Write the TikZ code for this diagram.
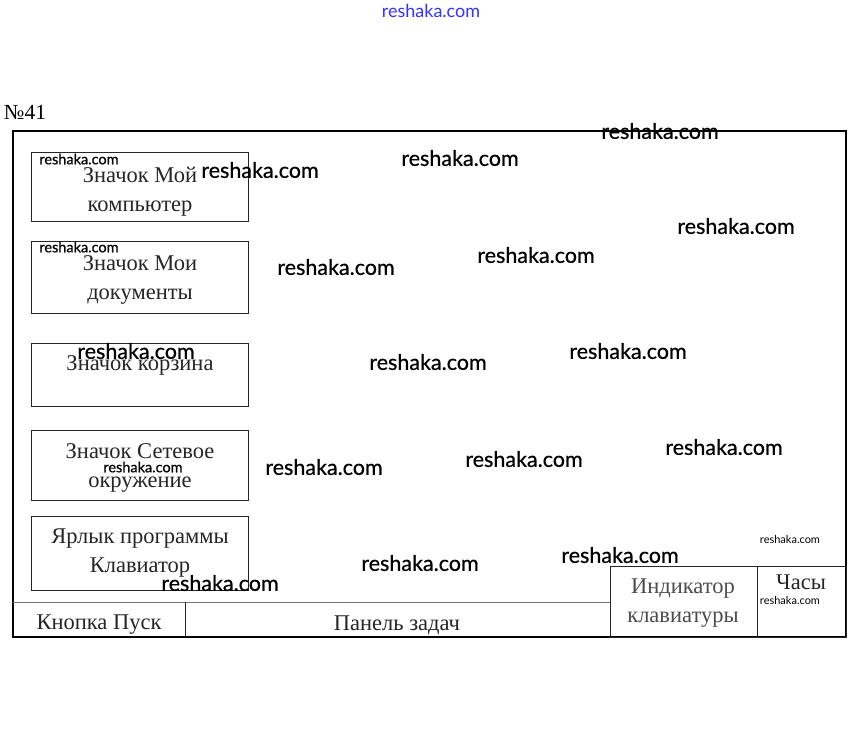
\documentclass[tikz,border=0pt]{standalone}
\usepackage{fontspec}
\setmainfont{Liberation Serif}
\newfontfamily\wmfont[FakeBold=0.6]{Lato}
\newfontfamily\wmthin{Lato}
\begin{document}
\begin{tikzpicture}[x=1pt,y=-1pt,
  box/.style={draw=black!85,line width=0.9pt,inner sep=0pt},
  lbl/.style={font=\fontsize{22.5}{29}\selectfont,text=black!85,align=center,inner sep=0pt},
  wm/.style={font=\wmfont\fontsize{21.5}{21.5}\selectfont,text=black,inner sep=0pt},
  wms/.style={font=\wmfont\fontsize{14.5}{14.5}\selectfont,text=black,inner sep=0pt},
  wmt/.style={font=\wmthin\fontsize{11}{11}\selectfont,text=black,inner sep=0pt}]
\useasboundingbox (0,0) rectangle (859,742);
\fill[white] (0,0) rectangle (859,742);
% title
\node[font=\fontsize{21.5}{21.5}\selectfont,inner sep=0pt] (num) at (25,112) {№41};
% desktop frame
\coordinate (dtl) at (13,131);
\coordinate (dbr) at (846,637);
\draw[line width=1.3pt] (dtl) rectangle (dbr);
% icon boxes
\node[box,minimum width=217pt,minimum height=69pt] (b1) at (139.5,186.5) {};
\node[box,minimum width=217pt,minimum height=72pt] (b2) at (139.5,277.5) {};
\node[box,minimum width=217pt,minimum height=63pt] (b3) at (139.5,374.5) {};
\node[box,minimum width=217pt,minimum height=70pt] (b4) at (139.5,465) {};
\node[box,minimum width=217pt,minimum height=74pt] (b5) at (139.5,553) {};
\node[lbl] (t1) at (140,192) {Значок Мой\\компьютер};
\node[lbl] (t2) at (140,279.5) {Значок Мои\\документы};
\node[lbl] (t3) at (140,365) {Значок корзина};
\node[lbl] (t4) at (140,468) {Значок Сетевое\\окружение};
\node[lbl] (t5) at (140,553) {Ярлык программы\\Клавиатор};
% taskbar
\coordinate (tbl) at (13,602);
\coordinate (tbr) at (610,602);
\draw[black!55,line width=0.8pt] (tbl) -- (tbr);
\coordinate (st) at (185,602);
\coordinate (sb) at (185,637);
\draw[black!85,line width=0.9pt] (st) -- (sb);
\node[box,minimum width=147pt,minimum height=71pt] (ind) at (683.5,601.5) {};
\node[box,minimum width=89pt,minimum height=71pt] (clk) at (801.5,601.5) {};
\node[lbl] (tp) at (99,625) {Кнопка Пуск};
\node[lbl] (tz) at (397,625) {Панель задач};
\node[lbl,text=black!70] (ti) at (683,603) {Индикатор\\клавиатуры};
\node[lbl] (tc) at (801,582) {Часы};
% watermarks
\node[font=\wmthin\fontsize{18}{18}\selectfont,text=blue!80,inner sep=0pt] (w0) at (431,11) {reshaka.com};
\node[wm] (w1) at (260,170) {reshaka.com};
\node[wm] (w2) at (460,158) {reshaka.com};
\node[wm] (w3) at (660,131) {reshaka.com};
\node[wm] (w4) at (736,226) {reshaka.com};
\node[wm] (w5) at (336,267) {reshaka.com};
\node[wm] (w6) at (536,255) {reshaka.com};
\node[wm] (w7) at (136,351) {reshaka.com};
\node[wm] (w8) at (428,362) {reshaka.com};
\node[wm] (w9) at (628,351) {reshaka.com};
\node[wm] (w10) at (324,467) {reshaka.com};
\node[wm] (w11) at (524,459) {reshaka.com};
\node[wm] (w12) at (724,447) {reshaka.com};
\node[wm] (w13) at (220,583) {reshaka.com};
\node[wm] (w14) at (420,563) {reshaka.com};
\node[wm] (w15) at (620,555) {reshaka.com};
\node[wms] (s1) at (79,159) {reshaka.com};
\node[wms] (s2) at (79,247) {reshaka.com};
\node[wms] (s3) at (143,467) {reshaka.com};
\node[wmt] (s4) at (790,539) {reshaka.com};
\node[wmt] (s5) at (790,600) {reshaka.com};
\end{tikzpicture}
\end{document}
